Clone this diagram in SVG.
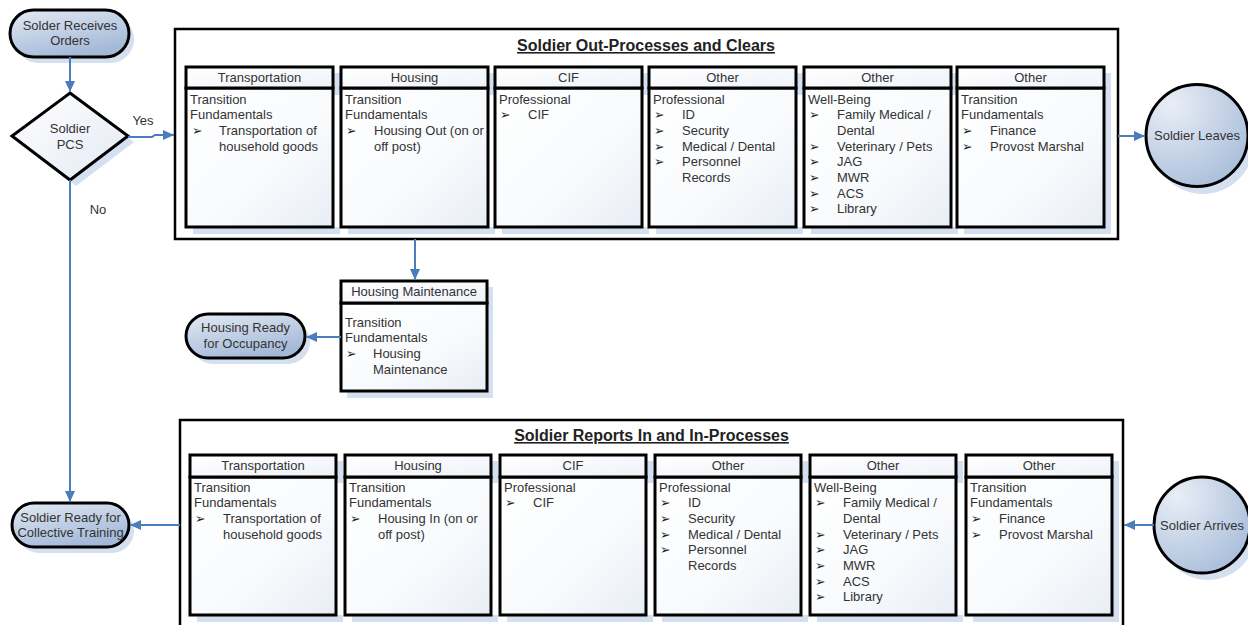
<svg xmlns="http://www.w3.org/2000/svg" width="1248" height="625" viewBox="0 0 1248 625">
  <defs>
    <linearGradient id="bodyGrad" x1="0" y1="0" x2="1" y2="1">
      <stop offset="0" stop-color="#ffffff"/>
      <stop offset="0.6" stop-color="#f8fafc"/>
      <stop offset="1" stop-color="#e8edf5"/>
    </linearGradient>
    <linearGradient id="hdrGrad" x1="0" y1="0" x2="1" y2="1">
      <stop offset="0" stop-color="#ffffff"/>
      <stop offset="1" stop-color="#eef2f8"/>
    </linearGradient>
    <linearGradient id="termGrad" x1="0" y1="0" x2="0.5" y2="1">
      <stop offset="0" stop-color="#e4eaf3"/>
      <stop offset="1" stop-color="#a3b9d8"/>
    </linearGradient>
    <linearGradient id="diaGrad" x1="0" y1="0" x2="1" y2="1">
      <stop offset="0" stop-color="#ffffff"/>
      <stop offset="1" stop-color="#e3e9f3"/>
    </linearGradient>
    <radialGradient id="circGrad" cx="0.25" cy="0.2" r="0.95">
      <stop offset="0" stop-color="#e9eef6"/>
      <stop offset="1" stop-color="#a6bbd9"/>
    </radialGradient>
    <marker id="ah" markerUnits="userSpaceOnUse" markerWidth="11" markerHeight="10" refX="11" refY="5" orient="auto">
      <path d="M0,0 L11,5 L0,10 z" fill="#4a7ebb"/>
    </marker>
    <style>
      .sh{fill:#d4e0f0}
      .body{fill:url(#bodyGrad);stroke:#000;stroke-width:3}
      .hdr{fill:url(#hdrGrad);stroke:#000;stroke-width:3}
      .frame{fill:#fff;stroke:#000;stroke-width:2.5}
      .term{fill:url(#termGrad);stroke:#000;stroke-width:3}
      .circ{fill:url(#circGrad);stroke:#000;stroke-width:3}
      .t{font-family:"Liberation Sans",Arial,sans-serif;font-size:13px;fill:#333}
      .c{text-anchor:middle}
      .title{font-family:"Liberation Sans",Arial,sans-serif;font-size:16px;font-weight:bold;fill:#222;text-anchor:middle;text-decoration:underline}
      .bl{font-family:"DejaVu Sans",sans-serif;font-size:12.5px;fill:#222}
      .conn{fill:none;stroke:#4a7ebb;stroke-width:2;marker-end:url(#ah)}
    </style>
  </defs>

  <rect width="1248" height="625" fill="#fff"/>

  <!-- start terminal -->
  <g id="start">
    <rect class="sh" x="15" y="16" width="119" height="47" rx="23.5"/>
    <rect class="term" x="10" y="10" width="119" height="47" rx="23.5"/>
    <text class="t c"><tspan x="70" y="29.5">Solder Receives</tspan><tspan x="70" y="45">Orders</tspan></text>
  </g>

  <!-- decision -->
  <g id="decision">
    <polygon class="sh" points="76,99 134,142 76,186 18,142"/>
    <polygon points="70,93 128,136 70,180 12,136" fill="url(#diaGrad)" stroke="#000" stroke-width="3"/>
    <text class="t c"><tspan x="70" y="132.5">Soldier</tspan><tspan x="70" y="148.5">PCS</tspan></text>
  </g>

  <!-- out-processing container -->
  <g id="out-process">
    <rect class="frame" x="175" y="29" width="943" height="210"/>
    <text class="title" x="646" y="51">Soldier Out-Processes and Clears</text>

    <g id="out-transportation">
      <rect class="sh" x="193" y="73" width="147" height="22"/>
      <rect class="sh" x="193" y="227" width="147" height="7"/>
      <rect class="body" x="186" y="88" width="147" height="139"/>
      <rect class="hdr" x="186" y="67" width="147" height="21"/>
      <text class="t c" x="259.5" y="81.5">Transportation</text>
      <text class="t"><tspan x="190" y="103.5">Transition</tspan><tspan x="190" y="119.2">Fundamentals</tspan><tspan x="219" y="134.9">Transportation of</tspan><tspan x="219" y="150.6">household goods</tspan></text>
      <text class="bl" x="192" y="134.9">➢</text>
    </g>

    <g id="out-housing">
      <rect class="sh" x="348" y="73" width="147" height="22"/>
      <rect class="sh" x="348" y="227" width="147" height="7"/>
      <rect class="body" x="341" y="88" width="147" height="139"/>
      <rect class="hdr" x="341" y="67" width="147" height="21"/>
      <text class="t c" x="414.5" y="81.5">Housing</text>
      <text class="t"><tspan x="345" y="103.5">Transition</tspan><tspan x="345" y="119.2">Fundamentals</tspan><tspan x="374" y="134.9">Housing Out (on or</tspan><tspan x="374" y="150.6">off post)</tspan></text>
      <text class="bl" x="346" y="134.9">➢</text>
    </g>

    <g id="out-cif">
      <rect class="sh" x="502" y="73" width="147" height="22"/>
      <rect class="sh" x="502" y="227" width="147" height="7"/>
      <rect class="body" x="495" y="88" width="147" height="139"/>
      <rect class="hdr" x="495" y="67" width="147" height="21"/>
      <text class="t c" x="568.5" y="81.5">CIF</text>
      <text class="t"><tspan x="499" y="103.5">Professional</tspan><tspan x="528" y="119.2">CIF</tspan></text>
      <text class="bl" x="500" y="119.2">➢</text>
    </g>

    <g id="out-professional">
      <rect class="sh" x="656" y="73" width="147" height="22"/>
      <rect class="sh" x="656" y="227" width="147" height="7"/>
      <rect class="body" x="649" y="88" width="147" height="139"/>
      <rect class="hdr" x="649" y="67" width="147" height="21"/>
      <text class="t c" x="722.5" y="81.5">Other</text>
      <text class="t"><tspan x="653" y="103.5">Professional</tspan><tspan x="682" y="119.2">ID</tspan><tspan x="682" y="134.9">Security</tspan><tspan x="682" y="150.6">Medical / Dental</tspan><tspan x="682" y="166.3">Personnel</tspan><tspan x="682" y="182">Records</tspan></text>
      <text class="bl"><tspan x="654" y="119.2">➢</tspan><tspan x="654" y="134.9">➢</tspan><tspan x="654" y="150.6">➢</tspan><tspan x="654" y="166.3">➢</tspan></text>
    </g>

    <g id="out-wellbeing">
      <rect class="sh" x="811" y="73" width="147" height="22"/>
      <rect class="sh" x="811" y="227" width="147" height="7"/>
      <rect class="body" x="804" y="88" width="147" height="139"/>
      <rect class="hdr" x="804" y="67" width="147" height="21"/>
      <text class="t c" x="877.5" y="81.5">Other</text>
      <text class="t"><tspan x="808" y="103.5">Well-Being</tspan><tspan x="837" y="119.2">Family Medical /</tspan><tspan x="837" y="134.9">Dental</tspan><tspan x="837" y="150.6">Veterinary / Pets</tspan><tspan x="837" y="166.3">JAG</tspan><tspan x="837" y="182">MWR</tspan><tspan x="837" y="197.7">ACS</tspan><tspan x="837" y="213.4">Library</tspan></text>
      <text class="bl"><tspan x="809" y="119.2">➢</tspan><tspan x="809" y="150.6">➢</tspan><tspan x="809" y="166.3">➢</tspan><tspan x="809" y="182">➢</tspan><tspan x="809" y="197.7">➢</tspan><tspan x="809" y="213.4">➢</tspan></text>
    </g>

    <g id="out-transition">
      <rect class="sh" x="964" y="73" width="147" height="161"/>
      <rect class="body" x="957" y="88" width="147" height="139"/>
      <rect class="hdr" x="957" y="67" width="147" height="21"/>
      <text class="t c" x="1030.5" y="81.5">Other</text>
      <text class="t"><tspan x="961" y="103.5">Transition</tspan><tspan x="961" y="119.2">Fundamentals</tspan><tspan x="990" y="134.9">Finance</tspan><tspan x="990" y="150.6">Provost Marshal</tspan></text>
      <text class="bl"><tspan x="962" y="134.9">➢</tspan><tspan x="962" y="150.6">➢</tspan></text>
    </g>
  </g>

  <!-- leave circle -->
  <g id="soldier-leaves">
    <circle class="sh" cx="1203" cy="143" r="51"/>
    <circle class="circ" cx="1197" cy="135.5" r="51"/>
    <text class="t c" x="1197" y="140">Soldier Leaves</text>
  </g>

  <!-- housing maintenance -->
  <g id="housing-maintenance">
    <rect class="sh" x="347" y="287" width="146" height="111"/>
    <rect class="body" x="341" y="303" width="146" height="88"/>
    <rect class="hdr" x="341" y="281" width="146" height="22"/>
    <text class="t c" x="414" y="296">Housing Maintenance</text>
    <text class="t"><tspan x="345" y="326.5">Transition</tspan><tspan x="345" y="342.3">Fundamentals</tspan><tspan x="373" y="358">Housing</tspan><tspan x="373" y="373.7">Maintenance</tspan></text>
    <text class="bl" x="346" y="358">➢</text>
  </g>

  <g id="housing-ready">
    <rect class="sh" x="191" y="320" width="119" height="44" rx="22"/>
    <rect class="term" x="186" y="314" width="119" height="44" rx="22"/>
    <text class="t c"><tspan x="245.5" y="331.5">Housing Ready</tspan><tspan x="245.5" y="347.5">for Occupancy</tspan></text>
  </g>

  <!-- in-processing container -->
  <g id="in-process">
    <rect class="frame" x="180" y="420" width="943" height="220"/>
    <text class="title" x="651.5" y="441">Soldier Reports In and In-Processes</text>

    <g id="in-transportation">
      <rect class="sh" x="197" y="461" width="146" height="22"/>
      <rect class="sh" x="197" y="615" width="146" height="7"/>
      <rect class="body" x="190" y="477" width="146" height="138"/>
      <rect class="hdr" x="190" y="455" width="146" height="22"/>
      <text class="t c" x="263" y="469.5">Transportation</text>
      <text class="t"><tspan x="194" y="491.5">Transition</tspan><tspan x="194" y="507.2">Fundamentals</tspan><tspan x="223" y="522.9">Transportation of</tspan><tspan x="223" y="538.6">household goods</tspan></text>
      <text class="bl" x="195" y="522.9">➢</text>
    </g>

    <g id="in-housing">
      <rect class="sh" x="352" y="461" width="146" height="22"/>
      <rect class="sh" x="352" y="615" width="146" height="7"/>
      <rect class="body" x="345" y="477" width="146" height="138"/>
      <rect class="hdr" x="345" y="455" width="146" height="22"/>
      <text class="t c" x="418" y="469.5">Housing</text>
      <text class="t"><tspan x="349" y="491.5">Transition</tspan><tspan x="349" y="507.2">Fundamentals</tspan><tspan x="378" y="522.9">Housing In (on or</tspan><tspan x="378" y="538.6">off post)</tspan></text>
      <text class="bl" x="350" y="522.9">➢</text>
    </g>

    <g id="in-cif">
      <rect class="sh" x="507" y="461" width="146" height="22"/>
      <rect class="sh" x="507" y="615" width="146" height="7"/>
      <rect class="body" x="500" y="477" width="146" height="138"/>
      <rect class="hdr" x="500" y="455" width="146" height="22"/>
      <text class="t c" x="573" y="469.5">CIF</text>
      <text class="t"><tspan x="504" y="491.5">Professional</tspan><tspan x="533" y="507.2">CIF</tspan></text>
      <text class="bl" x="505" y="507.2">➢</text>
    </g>

    <g id="in-professional">
      <rect class="sh" x="662" y="461" width="146" height="22"/>
      <rect class="sh" x="662" y="615" width="146" height="7"/>
      <rect class="body" x="655" y="477" width="146" height="138"/>
      <rect class="hdr" x="655" y="455" width="146" height="22"/>
      <text class="t c" x="728" y="469.5">Other</text>
      <text class="t"><tspan x="659" y="491.5">Professional</tspan><tspan x="688" y="507.2">ID</tspan><tspan x="688" y="522.9">Security</tspan><tspan x="688" y="538.6">Medical / Dental</tspan><tspan x="688" y="554.3">Personnel</tspan><tspan x="688" y="570">Records</tspan></text>
      <text class="bl"><tspan x="660" y="507.2">➢</tspan><tspan x="660" y="522.9">➢</tspan><tspan x="660" y="538.6">➢</tspan><tspan x="660" y="554.3">➢</tspan></text>
    </g>

    <g id="in-wellbeing">
      <rect class="sh" x="817" y="461" width="146" height="22"/>
      <rect class="sh" x="817" y="615" width="146" height="7"/>
      <rect class="body" x="810" y="477" width="146" height="138"/>
      <rect class="hdr" x="810" y="455" width="146" height="22"/>
      <text class="t c" x="883" y="469.5">Other</text>
      <text class="t"><tspan x="814" y="491.5">Well-Being</tspan><tspan x="843" y="507.2">Family Medical /</tspan><tspan x="843" y="522.9">Dental</tspan><tspan x="843" y="538.6">Veterinary / Pets</tspan><tspan x="843" y="554.3">JAG</tspan><tspan x="843" y="570">MWR</tspan><tspan x="843" y="585.7">ACS</tspan><tspan x="843" y="601.4">Library</tspan></text>
      <text class="bl"><tspan x="815" y="507.2">➢</tspan><tspan x="815" y="538.6">➢</tspan><tspan x="815" y="554.3">➢</tspan><tspan x="815" y="570">➢</tspan><tspan x="815" y="585.7">➢</tspan><tspan x="815" y="601.4">➢</tspan></text>
    </g>

    <g id="in-transition">
      <rect class="sh" x="973" y="461" width="146" height="161"/>
      <rect class="body" x="966" y="477" width="146" height="138"/>
      <rect class="hdr" x="966" y="455" width="146" height="22"/>
      <text class="t c" x="1039" y="469.5">Other</text>
      <text class="t"><tspan x="970" y="491.5">Transition</tspan><tspan x="970" y="507.2">Fundamentals</tspan><tspan x="999" y="522.9">Finance</tspan><tspan x="999" y="538.6">Provost Marshal</tspan></text>
      <text class="bl"><tspan x="971" y="522.9">➢</tspan><tspan x="971" y="538.6">➢</tspan></text>
    </g>
  </g>

  <g id="soldier-arrives">
    <circle class="sh" cx="1208" cy="532" r="48"/>
    <circle class="circ" cx="1202" cy="525" r="48"/>
    <text class="t c" x="1202" y="529.5">Soldier Arrives</text>
  </g>

  <g id="soldier-ready">
    <rect class="sh" x="17" y="509" width="117" height="44" rx="22"/>
    <rect class="term" x="12" y="503" width="117" height="44" rx="22"/>
    <text class="t c"><tspan x="70.5" y="521.5">Soldier Ready for</tspan><tspan x="70.5" y="536.5">Collective Training</tspan></text>
  </g>

  <!-- connectors -->
  <g id="connectors">
    <path class="conn" d="M70 57 V92"/>
    <path class="conn" d="M128 137 H152 L155 135 H174"/>
    <path class="conn" d="M70 180 V502"/>
    <path class="conn" d="M1118 136 H1145"/>
    <path class="conn" d="M415 239 V280"/>
    <path class="conn" d="M341 337 H306"/>
    <path class="conn" d="M180 525 H130"/>
    <path class="conn" d="M1154 525 H1124"/>
    <text class="t c" x="143" y="125">Yes</text>
    <text class="t c" x="98" y="214">No</text>
  </g>
</svg>
